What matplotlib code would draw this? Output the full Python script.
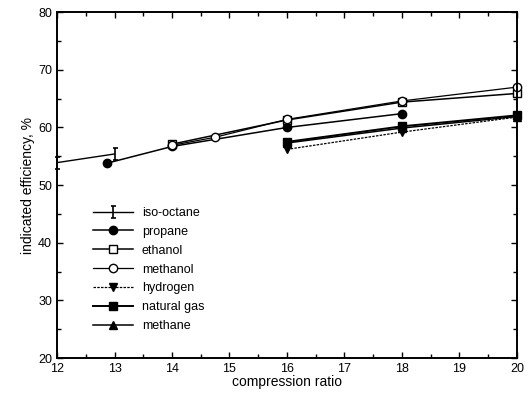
import matplotlib
matplotlib.use("Agg")
import matplotlib.pyplot as plt
from matplotlib.path import Path
from matplotlib.ticker import MultipleLocator

plt.rcParams['font.family'] = ['Liberation Sans', 'DejaVu Sans']

# data
iso_x = [12, 13]
iso_y = [53.9, 55.4]
propane_x = [12.87, 14, 16, 18]
propane_y = [53.8, 56.7, 60.0, 62.4]
ethanol_x = [14, 16, 18, 20]
ethanol_y = [57.1, 61.3, 64.4, 65.9]
methanol_x = [14, 14.75, 16, 18, 20]
methanol_y = [56.9, 58.3, 61.4, 64.6, 67.0]
hydrogen_x = [16, 18, 20]
hydrogen_y = [56.2, 59.2, 61.8]
natgas_x = [16, 18, 20]
natgas_y = [57.5, 60.2, 62.1]
methane_x = [16, 18, 20]
methane_y = [57.3, 59.9, 61.9]

# iso-octane marker: vertical bar with caps
ibar = Path([(-0.45, 1), (0.45, 1), (0, 1), (0, -1), (-0.45, -1), (0.45, -1)],
            [Path.MOVETO, Path.LINETO, Path.MOVETO, Path.LINETO, Path.MOVETO, Path.LINETO])

fig = plt.figure(figsize=(5.28, 3.93), dpi=100)
ax = fig.add_axes([0.108, 0.089, 0.871, 0.880])

k = dict(color="black", mec="black", clip_on=False)
ax.plot(iso_x, iso_y, "-", lw=1.0, marker=ibar, ms=8, mew=1.2, label="iso-octane", **k)
ax.plot(propane_x, propane_y, "-", lw=1.1, marker="o", ms=6, mfc="black", label="propane", **k)
ax.plot(ethanol_x, ethanol_y, "-", lw=1.1, marker="s", ms=6, mfc="white", label="ethanol", **k)
ax.plot(methanol_x, methanol_y, "-", lw=0.9, marker="o", ms=6, mfc="white", label="methanol", **k)
ax.plot(hydrogen_x, hydrogen_y, "--", lw=0.9, dashes=(2, 1), marker="v", ms=6, mfc="black",
        label="hydrogen", **k)
ax.plot(natgas_x, natgas_y, "-", lw=1.4, marker="s", ms=6, mfc="black", label="natural gas", **k)
ax.plot(methane_x, methane_y, "-", lw=1.1, marker="^", ms=6, mfc="black", label="methane", **k)

ax.set_xlim(12, 20)
ax.set_ylim(20, 80)
ax.xaxis.set_major_locator(MultipleLocator(1))
ax.xaxis.set_minor_locator(MultipleLocator(0.5))
ax.yaxis.set_major_locator(MultipleLocator(10))
ax.yaxis.set_minor_locator(MultipleLocator(5))
ax.tick_params(which="both", direction="in", top=True, right=True, labelsize=9, width=1.0)
ax.tick_params(which="major", length=4)
ax.tick_params(which="minor", length=3)
for s in ax.spines.values():
    s.set_linewidth(1.4)

ax.set_xlabel("compression ratio", fontsize=10, labelpad=0)
ax.set_ylabel("indicated efficiency, %", fontsize=10, labelpad=2)

ax.legend(loc="upper left", bbox_to_anchor=(0.065, 0.455), frameon=False, fontsize=9,
          handlelength=3.2, handletextpad=0.7, labelspacing=0.55, borderpad=0)

fig.savefig("out.png", dpi=100)
